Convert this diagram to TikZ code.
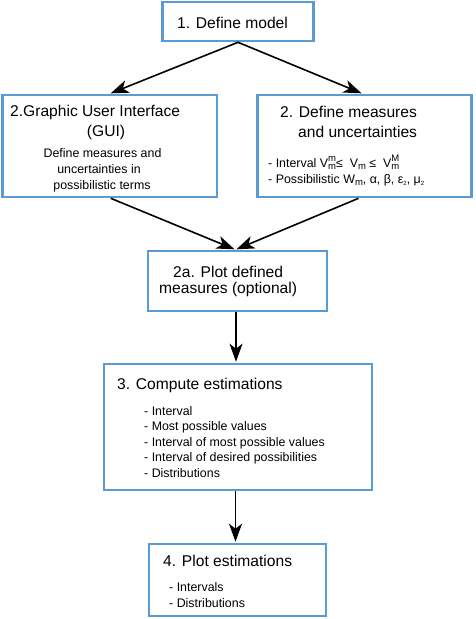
\documentclass[tikz,border=0pt]{standalone}
\usepackage{fontspec}
\setmainfont{Liberation Sans}
\usetikzlibrary{arrows.meta}
\definecolor{boxblue}{RGB}{91,155,213}
\newcommand\titlefnt{\fontsize{15.6}{19}\selectfont}
\newcommand\smallfnt{\fontsize{12.4}{15}\selectfont}
\newcommand\scr[1]{{\fontsize{9.5}{9.5}\selectfont #1}}
\newcommand\subm{\raisebox{-2.5pt}{\scr{m}}}
\newcommand\supsub[2]{\rlap{\raisebox{6pt}{\scr{#1}}}\raisebox{-2.5pt}{\scr{#2}}}
\newcommand\lowtwo{\raisebox{-2.5pt}{\fontsize{6}{6}\selectfont 2}}
\begin{document}
\begin{tikzpicture}[x=1pt,y=-1pt,
  box/.style={draw=boxblue, line width=2.6pt, fill=white, inner sep=0pt, rectangle},
  arr/.style={draw=black, line width=1.6pt, -{Stealth[length=18pt,width=13pt,inset=5pt]}, shorten >=1pt},
  ttl/.style={font=\titlefnt, inner sep=0pt, anchor=base west},
  ttlc/.style={font=\titlefnt, inner sep=0pt, anchor=base},
  sml/.style={font=\smallfnt, inner sep=0pt, anchor=base west},
  smlc/.style={font=\smallfnt, inner sep=0pt, anchor=base}]
\useasboundingbox (0,0) rectangle (475,619);
% boxes
\node[box, minimum width=151pt, minimum height=39pt] (b1) at (238,21.5) {};
\node[box, minimum width=214.5pt, minimum height=102pt] (b2l) at (109.75,146) {};
\node[box, minimum width=214pt, minimum height=102pt] (b2r) at (364.5,146) {};
\node[box, minimum width=179pt, minimum height=60pt] (b2a) at (237.5,281) {};
\node[box, minimum width=268pt, minimum height=126pt] (b3) at (238,427) {};
\node[box, minimum width=177pt, minimum height=72pt] (b4) at (237.5,580) {};
% arrows
\draw[arr] (b1.south) -- (b2l.north);
\draw[arr] (b1.south) -- ([xshift=-2pt]b2r.north);
\draw[arr] ([xshift=1pt]b2l.south) -- ([xshift=-2pt]b2a.north);
\draw[arr] ([xshift=-6pt]b2r.south) -- ([xshift=-2pt]b2a.north);
\draw[arr] ([xshift=-1.5pt]b2a.south) -- ([xshift=-1.5pt]b2a.south |- b3.north);
\draw[arr] ([xshift=-2.5pt]b3.south) -- ([xshift=-2.5pt]b3.south |- b4.north);
% texts
\node[ttl] (t1) at (177,28.3) {1. Define model};
\node[ttl] (t2l1) at (10,116) {2.Graphic User Interface};
\node[ttlc] (t2l2) at (106,136) {(GUI)};
\node[smlc] (t2l3) at (102.5,157) {Define measures and};
\node[smlc] (t2l4) at (99,173) {uncertainties in};
\node[smlc] (t2l5) at (102,189) {possibilistic terms};
\node[ttl] (t2r1) at (280,117) {2. Define measures};
\node[ttl] (t2r2) at (298,137) {and uncertainties};
\node[sml] (t2r3) at (268,167) {- Interval V\supsub{m}{m}≤\ \ V\subm\ ≤\ \ V\supsub{M}{m}};
\node[sml] (t2r4) at (268,183) {- Possibilistic W\subm, α, β, ε\lowtwo, μ\lowtwo};
\node[ttl] (t2a1) at (173,277) {2a. Plot defined};
\node[ttl] (t2a2) at (159,293) {measures (optional)};
\node[ttl] (t3) at (117,389) {3. Compute estimations};
\node[sml] (t3a) at (144,415) {- Interval};
\node[sml] (t3b) at (144,430.5) {- Most possible values};
\node[sml] (t3c) at (144,446) {- Interval of most possible values};
\node[sml] (t3d) at (144,461.5) {- Interval of desired possibilities};
\node[sml] (t3e) at (144,477) {- Distributions};
\node[ttl] (t4) at (163,566) {4. Plot estimations};
\node[sml] (t4a) at (169,591.5) {- Intervals};
\node[sml] (t4b) at (169,607) {- Distributions};
\end{tikzpicture}
\end{document}
